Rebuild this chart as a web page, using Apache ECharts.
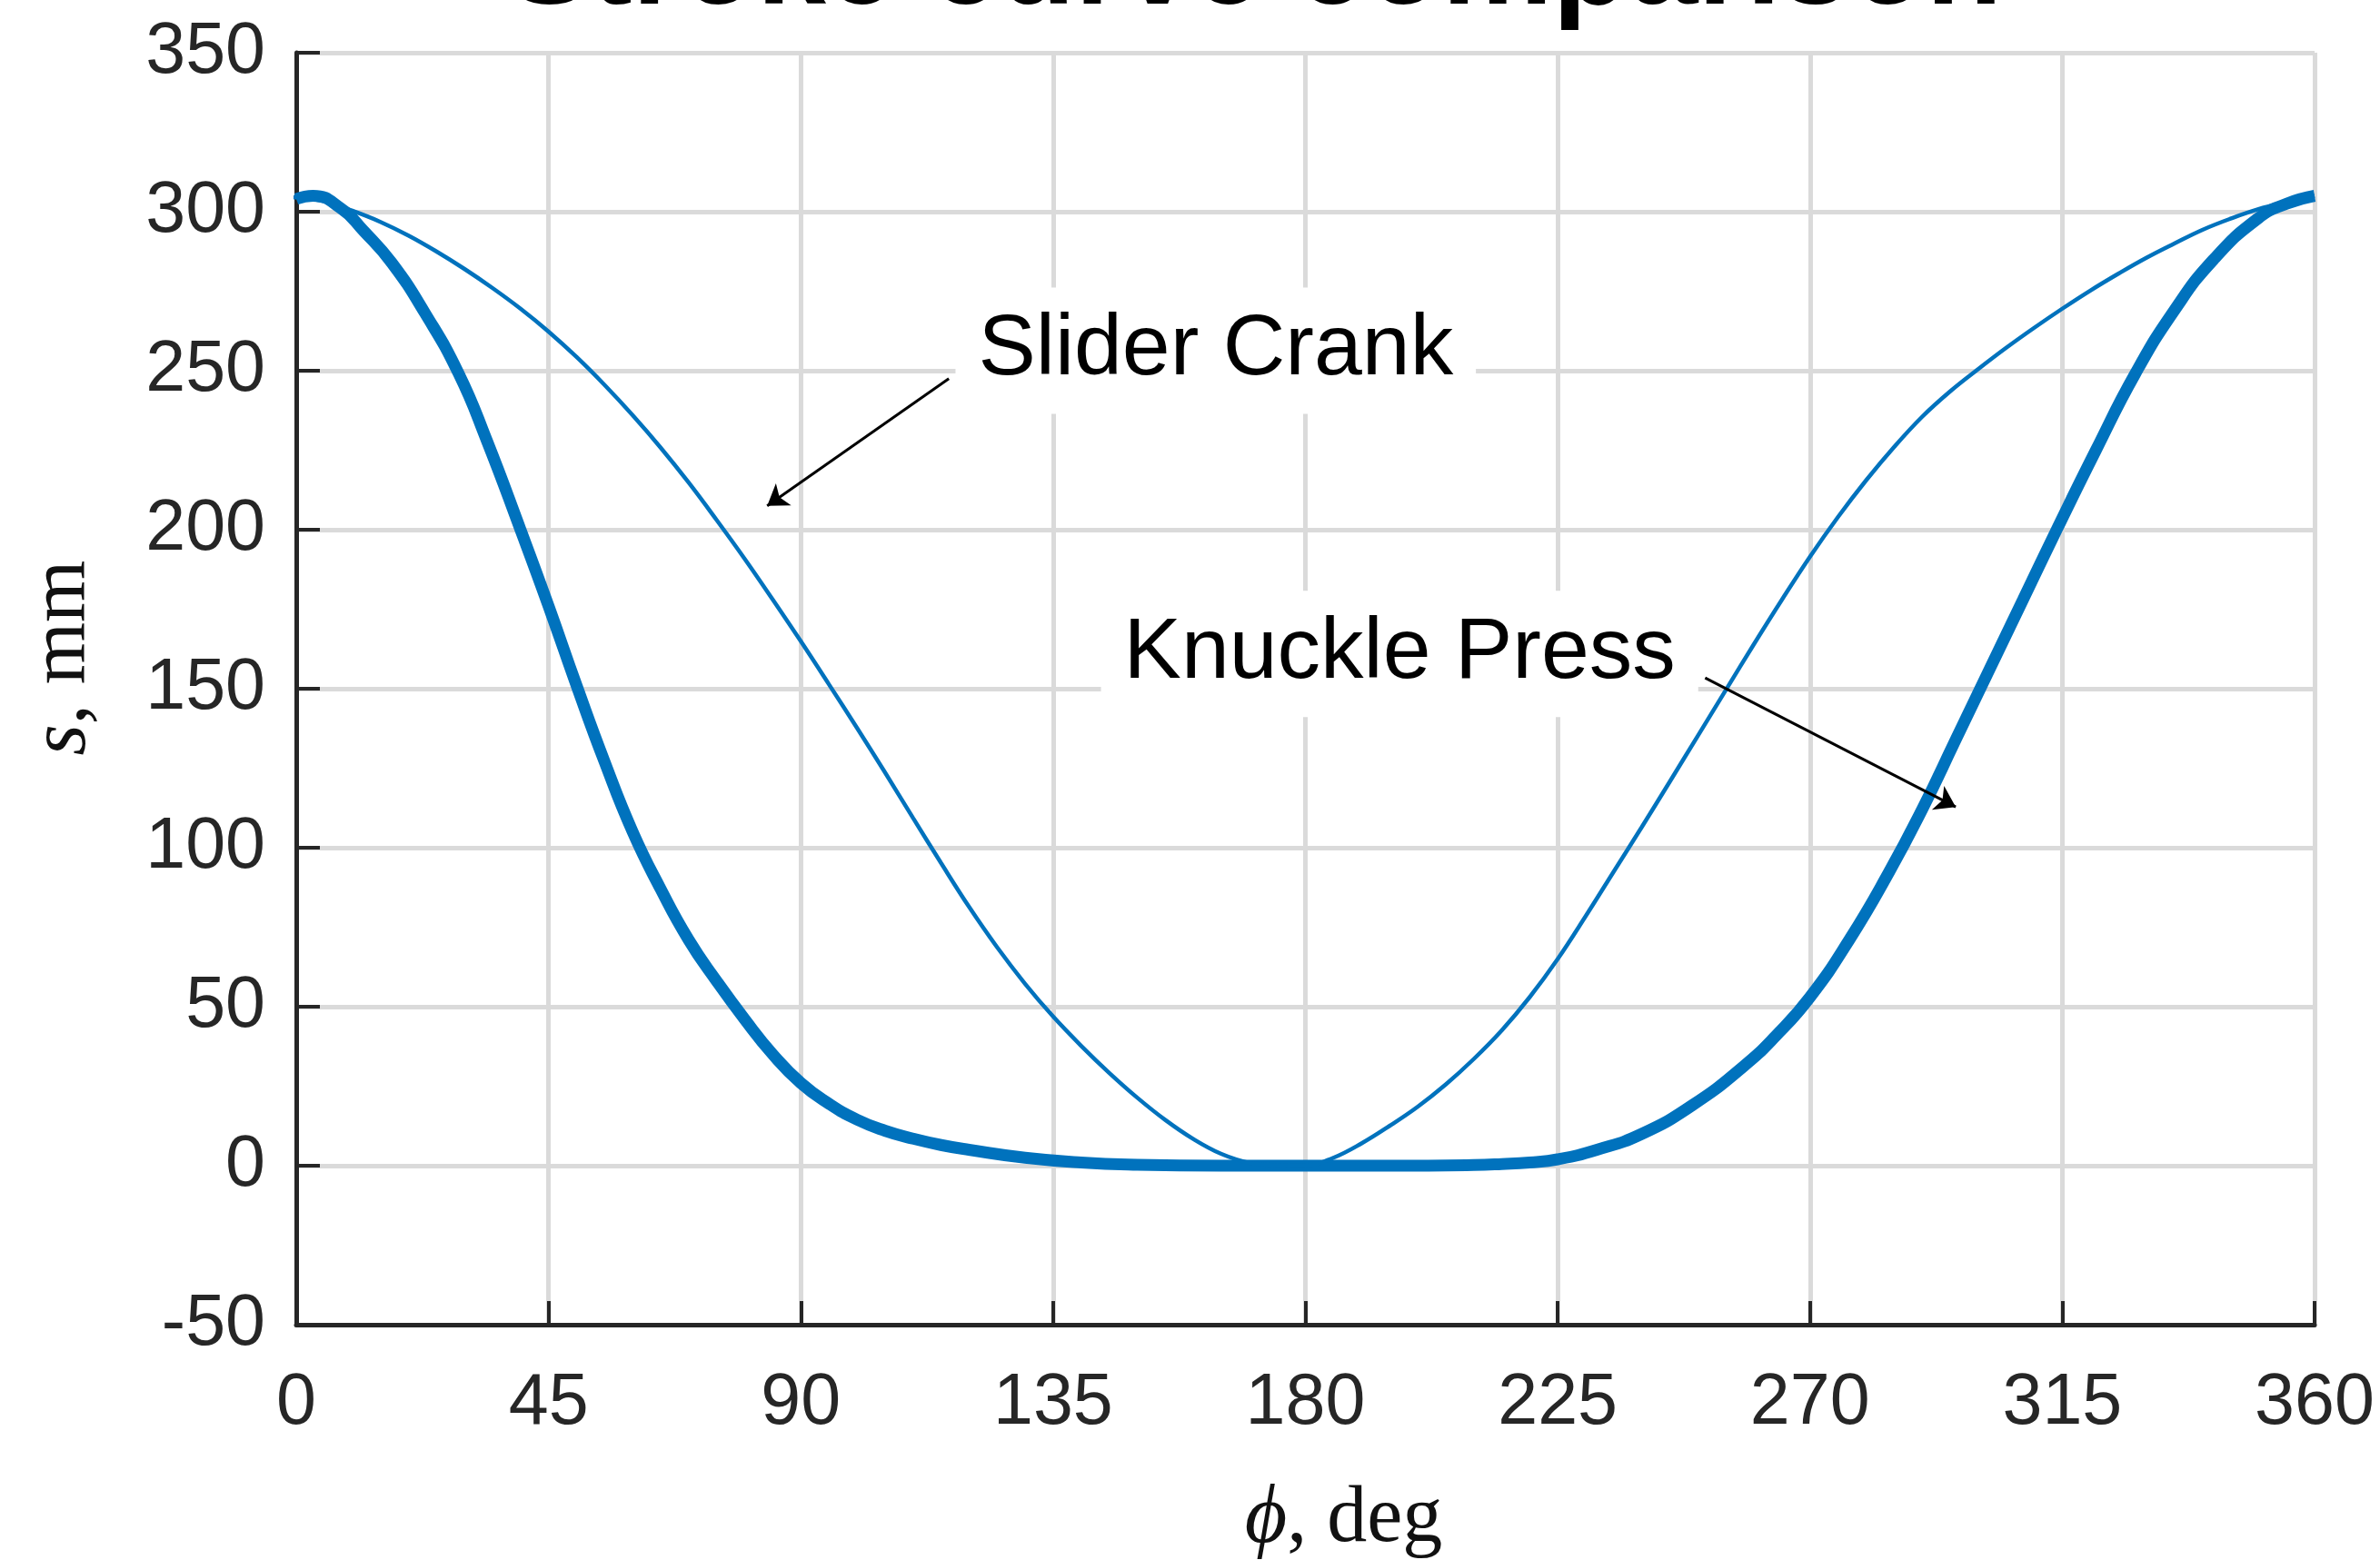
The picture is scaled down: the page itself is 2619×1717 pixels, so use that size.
<!DOCTYPE html>
<html>
<head>
<meta charset="utf-8">
<script src="https://cdn.jsdelivr.net/npm/echarts/dist/echarts.min.js"></script>
<style>
html,body{margin:0;padding:0;background:#fff;}
#c{width:2619px;height:1717px;}
</style>
</head>
<body>
<div id="c"></div>
<script>
// ---- data ----
const titleText = 'Stroke curve comparison';
const xTicks = [0, 45, 90, 135, 180, 225, 270, 315, 360];
const yTicks = [-50, 0, 50, 100, 150, 200, 250, 300, 350];

const crankDeg = [-5, 0, 5, 10, 15, 20, 25, 30, 35, 40, 45, 50, 55, 60, 65, 70, 75, 80, 85, 90, 95, 100, 105, 110, 115, 120, 125, 130, 135, 140, 145, 150, 155, 160, 165, 170, 175, 180,
                  185, 190, 195, 200, 205, 210, 215, 220, 225, 230, 235, 240, 245, 250, 255, 260, 265, 270, 275, 280, 285, 290, 295, 300, 305, 310, 315, 320, 325, 330, 335, 340, 345, 350, 355, 360];
const crankS   = [304, 304.5, 303.2, 300.3, 296.8, 292.5, 287.5, 282, 276, 269.5, 262.3, 254.3, 245.5, 236, 225.8, 214.8, 203, 190.8, 178, 164.9, 151.4, 137.7, 123.7, 109.4, 95.2, 81.4, 68.7, 57.2, 46.9, 37.7, 29.2, 21.4, 14.4, 8.4, 3.7, 0.9, 0.15, 0,
                  2.5, 7, 12.5, 18.5, 25.5, 33.5, 42.5, 53, 65, 78.5, 92.5, 106.5, 120.8, 135.2, 149.6, 164, 178, 191.5, 204, 215.5, 226, 235.5, 243.5, 250.5, 257.2, 263.5, 269.5, 275.2, 280.5, 285.5, 290, 294.3, 297.8, 300.8, 303, 305];

const knuckleDeg = [0, 3, 8, 12, 17, 23, 29, 34, 40, 45, 50, 55, 60, 65, 70, 75, 80, 85, 90, 95, 100, 105, 110, 115, 120, 130, 140, 150, 165, 180, 195, 210, 215, 220, 225, 232, 240, 249, 258, 264, 270, 277, 284, 290, 296, 302, 308, 314, 321, 328, 335, 342, 350, 355, 360];
const knuckleS   = [304, 305, 301, 294, 284, 268, 249, 228, 200, 176, 151, 127, 105, 87, 71, 58, 46, 35, 26, 19.5, 14.5, 11, 8.5, 6.5, 5, 2.5, 1, 0.3, 0, 0, 0, 0.2, 0.5, 1, 2, 5, 10, 19, 31, 41, 53, 71, 92, 112, 134, 156, 178, 200, 225, 249, 269, 285, 298, 302.5, 305];

// annotation anchors (data coordinates)
const labelNames = ['Slider Crank', 'Knuckle Press'];
const labelAt = [[164.0, 256.3], [196.8, 160.9]];
const arrowFrom = [[116.4, 247.5], [251.3, 153.4]];
const arrowTo   = [[84.0, 207.5], [296.0, 112.8]];

// ---- chart ----
const SANS = "'Liberation Sans', Arial, Helvetica, sans-serif";
const SERIF = "'Liberation Serif', 'Times New Roman', 'DejaVu Serif', serif";
const BLUE = '#0072BD';
const AX = '#262626';

const chart = echarts.init(document.getElementById('c'), null, {renderer: 'canvas'});

const crankData = crankDeg.map((d, i) => [d, crankS[i]]);
const knuckleData = knuckleDeg.map((d, i) => [d, knuckleS[i]]);

const option = {
  animation: false,
  backgroundColor: '#fff',
  grid: {left: 326, right: 72, top: 58, bottom: 259, containLabel: false, outerBoundsMode: 'none'},
  graphic: [{
    type: 'text', x: 1381, y: -34, silent: true,
    style: {text: titleText, fontSize: 137, fontWeight: 'bold', fontFamily: SANS,
            fill: '#000', align: 'center', verticalAlign: 'middle'}
  }],
  xAxis: {
    type: 'value', min: xTicks[0], max: xTicks[xTicks.length - 1], interval: 45,
    name: '{i|\u03D5}{n|, deg}', nameLocation: 'middle', nameGap: 170,
    nameTextStyle: {padding: [0, 0, 0, 84], rich: {
      i: {fontFamily: SERIF, fontStyle: 'italic', fontSize: 90, color: '#111'},
      n: {fontFamily: SERIF, fontSize: 88, color: '#111'}}},
    axisLine: {onZero: false, lineStyle: {color: AX, width: 5}},
    axisTick: {inside: true, length: 26, lineStyle: {color: AX, width: 4}},
    axisLabel: {fontFamily: SANS, fontSize: 79, color: AX, margin: 48, showMinLabel: true, showMaxLabel: true, hideOverlap: false},
    splitLine: {show: true, lineStyle: {color: '#dadada', width: 5}}
  },
  yAxis: {
    type: 'value', min: yTicks[0], max: yTicks[yTicks.length - 1], interval: 50,
    name: '{i|s}{n|, mm}', nameLocation: 'middle', nameRotate: 90, nameGap: 212,
    nameTextStyle: {padding: [0, 0, 0, 68], rich: {
      i: {fontFamily: SERIF, fontStyle: 'italic', fontSize: 88, color: '#111'},
      n: {fontFamily: SERIF, fontSize: 88, color: '#111'}}},
    axisLine: {onZero: false, show: true, lineStyle: {color: AX, width: 5}},
    axisTick: {show: true, inside: true, length: 26, lineStyle: {color: AX, width: 4}},
    axisLabel: {fontFamily: SANS, fontSize: 79, color: AX, margin: 34, showMinLabel: true, showMaxLabel: true, hideOverlap: false},
    splitLine: {show: true, lineStyle: {color: '#dadada', width: 5}}
  },
  series: [
    {
      type: 'line', name: 'Slider Crank', data: crankData,
      showSymbol: false, symbol: 'none', smooth: 0.4, clip: false,
      lineStyle: {color: BLUE, width: 4.5}, z: 3, silent: true,
      markLine: {
        silent: true, symbol: ['none', 'arrow'], symbolSize: 22,
        lineStyle: {color: '#000', width: 3, type: 'solid'},
        itemStyle: {color: '#000'},
        label: {show: false},
        data: arrowFrom.map((f, i) => [{coord: f}, {coord: arrowTo[i]}])
      },
      markPoint: {
        silent: true, symbol: 'circle', symbolSize: 1,
        itemStyle: {color: 'rgba(0,0,0,0)'},
        label: {show: true, position: 'inside', formatter: '{b}', fontFamily: SANS, fontSize: 95,
                color: '#000', backgroundColor: '#fff', padding: [14, 25], lineHeight: 111},
        data: labelNames.map((n, i) => ({name: n, coord: labelAt[i]}))
      }
    },
    {
      type: 'line', name: 'Knuckle Press', data: knuckleData,
      showSymbol: false, symbol: 'none', smooth: 0.5, clip: false,
      lineStyle: {color: BLUE, width: 13}, z: 2, silent: true
    }
  ]
};
chart.setOption(option);
</script>
</body>
</html>
